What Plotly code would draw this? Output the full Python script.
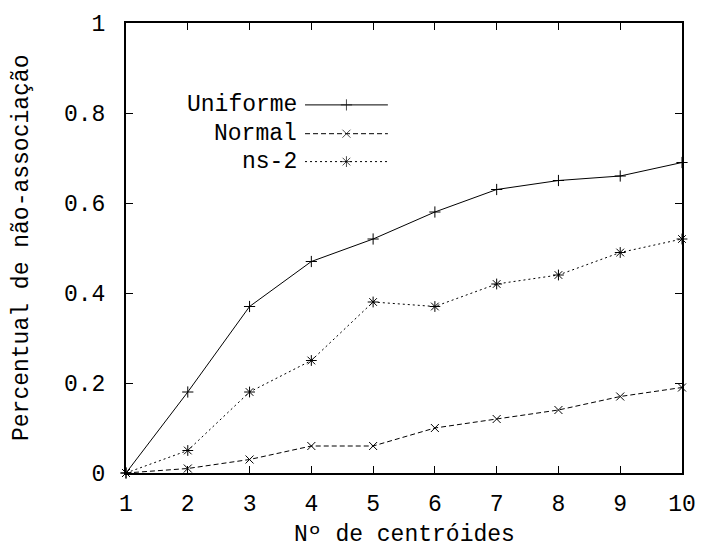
import plotly.graph_objects as go

centroides = [1, 2, 3, 4, 5, 6, 7, 8, 9, 10]
uniforme = [0.0, 0.18, 0.37, 0.47, 0.52, 0.58, 0.63, 0.65, 0.66, 0.69]
normal = [0.0, 0.01, 0.03, 0.06, 0.06, 0.10, 0.12, 0.14, 0.17, 0.19]
ns2 = [0.0, 0.05, 0.18, 0.25, 0.38, 0.37, 0.42, 0.44, 0.49, 0.52]
series_names = ["Uniforme", "Normal", "ns-2"]
x_ticks = [1, 2, 3, 4, 5, 6, 7, 8, 9, 10]
y_ticks = [0, 0.2, 0.4, 0.6, 0.8, 1]
y_tick_text = ["0", "0.2", "0.4", "0.6", "0.8", "1"]
x_title = "Nº de centróides"
y_title = "Percentual de não-associação"

FONT = "Liberation Mono, Courier New, monospace"
FS = 23
styles = [
    dict(dash="solid", symbol="cross-thin", size=8),
    dict(dash="5px,3px", symbol="x-thin", size=8),
    dict(dash="2px,3px", symbol="asterisk-open", size=9),
]
datas = [uniforme, normal, ns2]

fig = go.Figure()
for name, ys, st in zip(series_names, datas, styles):
    fig.add_trace(go.Scatter(
        x=centroides, y=ys, mode="lines+markers", name=name,
        line=dict(color="black", width=1, dash=st["dash"]),
        marker=dict(symbol=st["symbol"], size=st["size"], color="black",
                    line=dict(color="black", width=1)),
        showlegend=False, cliponaxis=False,
    ))

# gnuplot-style legend (text left of sample), drawn on an overlay axis
leg_y = [0.818, 0.754, 0.692]
x0, x1 = 0.322, 0.471
for name, st, ly in zip(series_names, styles, leg_y):
    fig.add_trace(go.Scatter(
        x=[x0, (x0 + x1) / 2, x1], y=[ly, ly, ly], xaxis="x2", yaxis="y2",
        mode="lines+markers",
        line=dict(color="black", width=1, dash=st["dash"]),
        marker=dict(symbol=st["symbol"], size=[0, st["size"], 0], color="black",
                    line=dict(color="black", width=1)),
        showlegend=False, hoverinfo="skip",
    ))
    fig.add_annotation(x=0.311, y=ly, xref="x2", yref="y2", text=name,
                       showarrow=False, xanchor="right", yanchor="middle",
                       font=dict(family=FONT, size=FS, color="black"))

# axis titles
fig.add_annotation(x=0.5, y=0, xref="paper", yref="paper", text=x_title,
                   showarrow=False, xanchor="center", yanchor="middle",
                   yshift=-62, font=dict(family=FONT, size=FS, color="black"))
fig.add_annotation(x=0, y=0.5, xref="paper", yref="paper", text=y_title,
                   showarrow=False, xanchor="center", yanchor="middle",
                   textangle=-90, xshift=-104,
                   font=dict(family=FONT, size=FS, color="black"))

fig.update_layout(
    width=704, height=550,
    margin=dict(l=126, r=22, t=23, b=77, autoexpand=False),
    paper_bgcolor="white", plot_bgcolor="white",
    font=dict(family=FONT, size=FS, color="black"),
    xaxis=dict(
        range=[1, 10], tickvals=x_ticks, ticks="inside", ticklen=7,
        tickwidth=1, tickcolor="black", showline=True, linewidth=2,
        linecolor="black", mirror="ticks", showgrid=False, zeroline=False,
        ticklabelstandoff=8, automargin=False,
    ),
    yaxis=dict(
        range=[0, 1], tickvals=y_ticks, ticktext=y_tick_text, ticks="inside",
        ticklen=7, tickwidth=1, tickcolor="black", showline=True, linewidth=2,
        linecolor="black", mirror="ticks", showgrid=False, zeroline=False,
        ticklabelstandoff=14, automargin=False,
    ),
    xaxis2=dict(overlaying="x", range=[0, 1], visible=False, domain=[0, 1]),
    yaxis2=dict(overlaying="y", range=[0, 1], visible=False, domain=[0, 1]),
    hovermode=False,
)

fig.write_html("out.html")
